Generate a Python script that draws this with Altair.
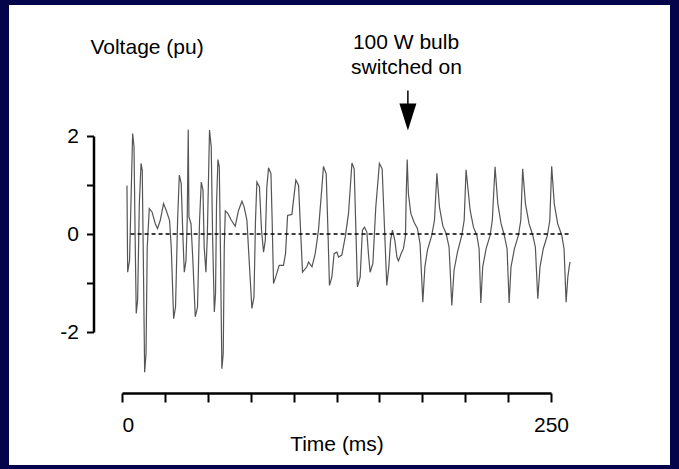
import altair as alt
import pandas as pd

# Voltage trace (time in ms, voltage in pu)
time_ms = [2.9, 3.3, 4.4, 5.2, 6.2, 7.0, 7.6, 8.3, 9.1, 10.1, 11.1, 11.8, 12.4, 13.2, 14.0, 14.7,
           15.9, 17.5, 19.4, 20.7, 22.3, 24.2, 25.8, 27.7, 28.7, 30.1, 31.2, 32.4, 33.4, 34.5,
           35.5, 36.3, 37.3, 38.0, 38.6, 39.0, 40.2, 41.3, 42.7, 44.0, 45.2, 46.2, 47.2, 47.9,
           48.9, 49.7, 51.0, 52.0, 52.8, 53.8, 54.5, 55.1, 55.9, 56.7, 57.4, 58.2, 59.0, 59.6,
           60.2, 61.7, 63.7, 66.0, 67.9, 69.9, 71.2, 72.8, 74.1, 75.7, 76.9, 77.8, 78.6, 80.1,
           81.3, 82.5, 83.5, 84.4, 85.4, 86.8, 87.5, 88.3, 89.9, 91.6, 94.1, 95.3, 96.5, 99.0,
           101.3, 102.9, 103.8, 105.2, 107.7, 108.7, 110.7, 112.6, 114.5, 116.5, 117.4, 119.0,
           120.0, 120.9, 122.3, 123.6, 125.2, 126.2, 128.1, 130.1, 132.0, 134.0, 135.3, 136.3,
           137.2, 138.8, 140.1, 141.3, 142.7, 143.6, 144.6, 146.2, 147.9, 150.0, 151.6, 152.8,
           154.3, 155.5, 156.5, 157.6, 159.0, 160.2, 161.1, 162.7, 164.0, 165.2, 165.6, 166.2,
           166.9, 168.3, 170.2, 172.2, 173.7, 175.3, 176.5, 178.0, 180.5, 182.1, 183.5, 185.0,
           187.0, 188.9, 190.6, 192.2, 193.5, 195.5, 198.0, 199.4, 200.5, 202.9, 204.8, 206.8,
           208.1, 209.1, 210.2, 212.2, 214.5, 215.8, 217.4, 219.0, 220.9, 222.8, 224.4, 225.6,
           226.7, 228.7, 231.0, 232.4, 233.5, 235.1, 237.2, 239.4, 240.9, 242.3, 243.6, 245.5,
           247.9, 249.3, 250.4, 251.9, 253.9, 256.3, 257.6, 258.8, 259.8, 260.6, 261.1]
voltage_pu = [0.99, -0.78, -0.54, 0.62, 2.05, 1.78, 0.08, -1.62, -1.35, 0.62, 1.44, 1.3, -0.4, -2.82, -2.44, -0.27,
              0.52, 0.45, 0.21, 0.11, 0.28, 0.62, 0.48, 0.28, -0.27, -1.73, -1.49, 0.28, 1.2, 1.03,
              -0.06, -0.78, -0.54, 0.28, 2.13, 0.35, 0.21, -0.54, -1.69, -1.49, 0.28, 1.06, 0.89, -0.27,
              -0.78, -0.06, 2.12, 1.78, -0.06, -1.59, -1.22, 0.62, 1.52, 1.37, -0.4, -2.75, -2.44, -0.27,
              0.47, 0.42, 0.28, 0.16, 0.48, 0.67, 0.55, 0.28, -0.54, -1.52, -1.29, 0.28, 1.06, 0.96,
              0.08, -0.37, -0.13, 0.96, 1.35, 1.23, 0.28, -1.01, -0.84, -0.64, -0.64, -0.4, 0.38, 0.4,
              1.1, 0.99, 0.28, -0.78, -0.67, -0.57, -0.67, -0.4, 0.08, 0.96, 1.38, 1.23,
              0.08, -1.05, -0.88, -0.4, -0.37, -0.47, -0.43, -0.06, 0.42, 1.45, 1.33, 0.08,
              -1.08, -0.88, 0.08, 0.14, 0.04, -0.4, -0.78, -0.6, 0.55, 1.44, 1.33, 0.28,
              -1.05, -0.67, -0.13, 0.08, -0.13, -0.47, -0.55, -0.4, -0.3, -0.03, 0.76, 1.52,
              0.82, 0.42, 0.24, 0.11, -0.2, -1.39, -0.67, -0.33, -0.03, 0.28, 1.24, 0.55,
              0.16, 0.01, -0.27, -1.46, -0.74, -0.37, -0.03, 0.28, 1.31, 0.48, 0.14, -0.03,
              -0.3, -1.41, -0.67, -0.3, -0.03, 0.28, 1.37, 0.62, 0.21, -0.03, -0.3, -1.41,
              -0.67, -0.3, -0.03, 0.28, 1.33, 0.62, 0.21, -0.03, -0.27, -1.32, -0.67, -0.3,
              -0.03, 0.28, 1.38, 0.62, 0.21, -0.03, -0.3, -1.39, -0.88, -0.67, -0.57]

zero_time = [5, 261]
zero_value = [0, 0]

x_ticks = [0, 25, 50, 75, 100, 125, 150, 175, 200, 225, 250]
y_ticks = [-2, -1, 0, 1, 2]

# annotation (switch-on instant, arrow)
switch_time = [166.6]
arrow_top = [2.93]
arrow_bottom = [2.6]
arrow_head = [2.39]

label_text = ["Voltage (pu)", "100 W bulb", "switched on"]
label_time = [-18.4, 165.5, 165.8]
label_value = [3.68, 3.78, 3.27]
label_align = ["left", "center", "center"]

FONT = "Liberation Sans"
NAVY = "#04044a"

wave = pd.DataFrame({"t": time_ms[:len(voltage_pu)], "v": voltage_pu[:len(time_ms)]})
zero = pd.DataFrame({"t": zero_time, "v": zero_value})
arrow = pd.DataFrame({"t": switch_time, "v1": arrow_top, "v2": arrow_bottom, "vh": arrow_head})
labels = pd.DataFrame({"text": label_text, "t": label_time, "v": label_value, "align": label_align})

xs = alt.Scale(domain=[0, 250], nice=False, zero=False)
ys = alt.Scale(domain=[-2, 2], nice=False, zero=False)

x_axis = alt.Axis(
    values=x_ticks, offset=61, domainColor="black", domainWidth=2.5,
    tickColor="black", tickWidth=2, tickSize=9, grid=False, zindex=2,
    labelExpr="datum.value == 0 || datum.value == 250 ? datum.label : ''",
    labelAlign=alt.expr("datum.value == 0 ? 'left' : 'center'"),
    labelPadding=12, labelFont=FONT, labelFontSize=21, labelColor="black",
    titleFont=FONT, titleFontSize=21, titleFontWeight="normal", titleColor="black",
    titleY=40, titleBaseline="top",
)
y_axis = alt.Axis(
    values=y_ticks, offset=28.5, domainColor="black", domainWidth=2.5,
    tickColor="black", tickWidth=2, tickSize=7, grid=False, zindex=2,
    labelExpr="datum.value == 2 ? '2' : datum.value == 0 ? '0' : datum.value == -2 ? '-2' : ''",
    labelPadding=8, labelFont=FONT, labelFontSize=21, labelColor="black",
)


def X(field):
    return alt.X(field, type="quantitative", scale=xs, axis=x_axis, title="Time (ms)")


def Y(field):
    return alt.Y(field, type="quantitative", scale=ys, axis=y_axis, title=None)


panel = alt.Chart(alt.Data(values=[{}])).mark_rect(color="white").encode(
    x=alt.value(-113), x2=alt.value(548), y=alt.value(-131), y2=alt.value(329)
)

line = alt.Chart(wave).mark_line(color="#555555", strokeWidth=1.2).encode(
    x=X("t"), y=Y("v")
)

zero_line = alt.Chart(zero).mark_line(color="black", strokeWidth=1.3, strokeDash=[4, 3]).encode(
    x=X("t"), y=Y("v")
)

arrow_shaft = alt.Chart(arrow).mark_rule(color="black", strokeWidth=1.5).encode(
    x=X("t"), y=Y("v1"), y2="v2:Q"
)

arrow_tip = alt.Chart(arrow).mark_point(
    shape="M-0.63,-1L0.63,-1L0,1Z", filled=True, color="black", size=729, opacity=1
).encode(x=X("t"), y=Y("vh"))

texts_left = alt.Chart(labels[labels["align"] == "left"]).mark_text(
    align="left", baseline="alphabetic", font=FONT, fontSize=21, color="black"
).encode(x=X("t"), y=Y("v"), text="text:N")

texts_center = alt.Chart(labels[labels["align"] == "center"]).mark_text(
    align="center", baseline="alphabetic", font=FONT, fontSize=21, color="black"
).encode(x=X("t"), y=Y("v"), text="text:N")

chart = alt.layer(
    panel, line, zero_line, arrow_shaft, arrow_tip, texts_left, texts_center
).properties(
    width=429, height=196,
    autosize=alt.AutoSizeParams(type="none"),
    padding={"left": 122, "top": 136, "right": 128, "bottom": 137},
    background=NAVY,
).configure_view(stroke=None)

chart.save("out.html", embed_options={"renderer": "svg", "actions": False})
